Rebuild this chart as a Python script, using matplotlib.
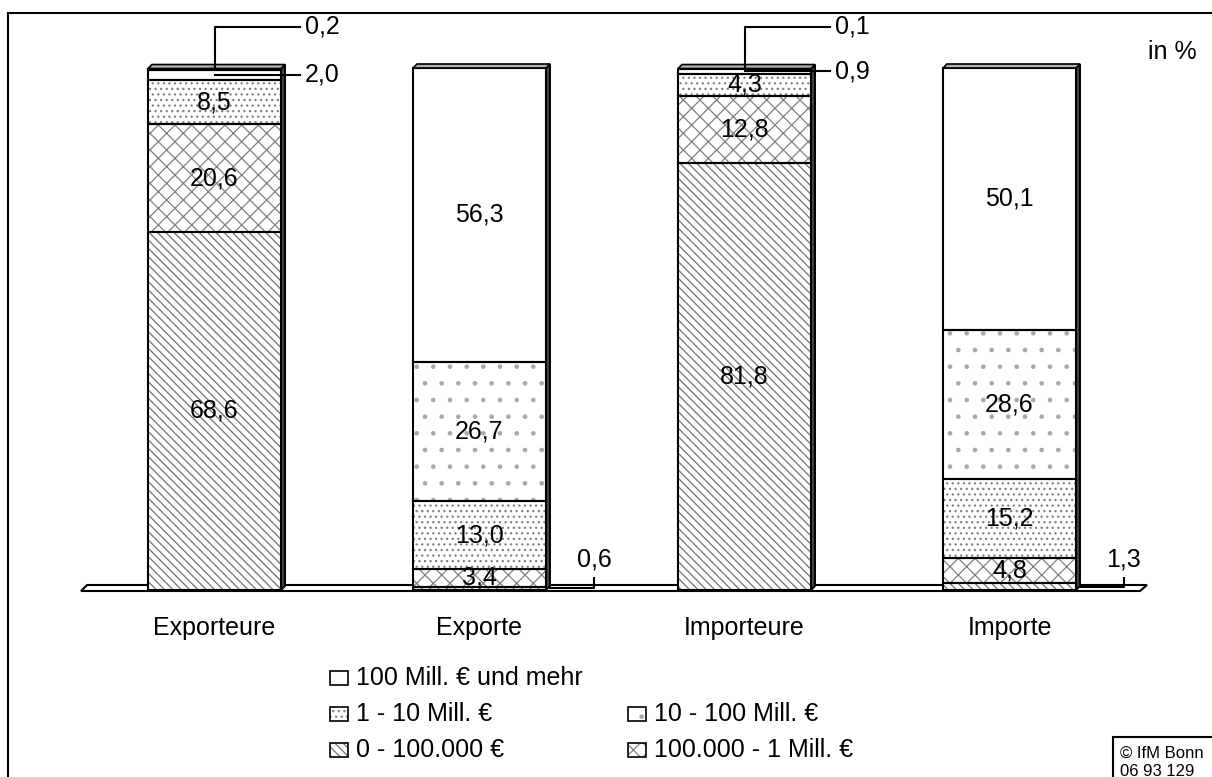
import numpy as np
import matplotlib
matplotlib.use('Agg')
import matplotlib.pyplot as plt
from matplotlib.patches import Rectangle, Polygon

plt.rcParams['font.family'] = ['Liberation Sans', 'DejaVu Sans']
plt.rcParams['hatch.linewidth'] = 0.9

# Daten (Anteile in %)
groups = ['Exporteure', 'Exporte', 'Importeure', 'Importe']
classes = ['0 - 100.000 €', '100.000 - 1 Mill. €', '1 - 10 Mill. €',
           '10 - 100 Mill. €', '100 Mill. € und mehr']
v_0_100t = [68.6, 0.6, 81.8, 1.3]
v_100t_1m = [20.6, 3.4, 12.8, 4.8]
v_1_10m = [8.5, 13.0, 4.3, 15.2]
v_10_100m = [2.0, 26.7, 0.9, 28.6]
v_100m = [0.2, 56.3, 0.1, 50.1]
series = [v_0_100t, v_100t_1m, v_1_10m, v_10_100m, v_100m]

hatches = ['\\\\\\\\', 'xx', '...', '.', '']
hcols = ['#707070', '#808080', '#808080', '#a8a8a8', '#808080']
W, H = 1212, 777


def fx(xp):  # pixel -> figure fraction
    return xp / W


def fy(yp):
    return 1 - yp / H


def d(xp, yp):  # pixel -> data
    return (xp - 214.5) / 265, (590 - yp) / 5.22


def fmt(v):
    return f'{v:.1f}'.replace('.', ',')


fig = plt.figure(figsize=(W / 100, H / 100), dpi=100)
ax = fig.add_axes([0, 0, 1, 1])
ax.set_xlim(d(0, 0)[0], d(W, 0)[0])
ax.set_ylim(d(0, H)[1], d(0, 0)[1])
ax.axis('off')

# Rahmen
fig.patches.append(Rectangle((fx(8), fy(800)), 2, fy(13) - fy(800), transform=fig.transFigure,
                             fill=False, edgecolor='black', linewidth=1.5))

# Boden
floor = [d(81, 591), d(1140, 591), d(1147, 585), d(87, 585)]
ax.add_patch(Polygon(floor, closed=True, facecolor='white', edgecolor='black', linewidth=1.5, zorder=1))

x = np.arange(len(groups))
w = 133 / 265
dx, dy = 4 / 265, 4 / 5.22
fs = 18

bottom = np.zeros(len(groups))
for k, vals in enumerate(series):
    vals = np.array(vals)
    ax.bar(x, vals, width=w, bottom=bottom, color='white', edgecolor=hcols[k],
           hatch=hatches[k], linewidth=0, zorder=2)
    ax.bar(x, vals, width=w, bottom=bottom, fill=False, edgecolor='black',
           linewidth=1.5, zorder=3)
    for i, v in enumerate(vals):
        if v >= 3:
            ax.text(x[i], bottom[i] + v / 2, fmt(v), ha='center', va='center',
                    fontsize=fs, zorder=5)
    bottom += vals

# 3D-Effekt
for i, top in enumerate(bottom):
    x1 = x[i] + w / 2
    x0 = x[i] - w / 2
    ax.add_patch(Polygon([(x1, 0), (x1 + dx, dy), (x1 + dx, top + dy), (x1, top)],
                         closed=True, facecolor='#404040', edgecolor='black', linewidth=1.4, zorder=4))
    ax.add_patch(Polygon([(x0, top), (x0 + dx, top + dy), (x1 + dx, top + dy), (x1, top)],
                         closed=True, facecolor='#b0b0b0', edgecolor='black', linewidth=1.2, zorder=4))

# Kleine Werte mit Hinweislinien
lab_x = 85 / 265
y_top_lab = d(0, 27)[1]
for i in range(len(groups)):
    top = bottom[i]
    v4 = series[4][i]
    v3 = series[3][i]
    if v4 < 3:
        ax.plot([x[i], x[i], x[i] + lab_x], [top - v4 / 2, y_top_lab, y_top_lab],
                color='black', linewidth=1.5, zorder=6)
        ax.text(x[i] + lab_x + 5 / 265, y_top_lab, fmt(v4), ha='left', va='center', fontsize=fs)
    if v3 < 3:
        yc = top - v4 - v3 / 2
        ax.plot([x[i], x[i] + lab_x], [yc, yc], color='black', linewidth=1.5, zorder=6)
        ax.text(x[i] + lab_x + 5 / 265, yc, fmt(v3), ha='left', va='center', fontsize=fs)
    v0 = series[0][i]
    if v0 < 3:
        xe = x[i] + w / 2 + dx
        xt = xe + 44 / 265
        ax.plot([xe, xt, xt], [v0 / 2, v0 / 2, 2.3], color='black', linewidth=1.5, zorder=6)
        ax.text(xt, 5.8, fmt(v0), ha='center', va='center', fontsize=fs)

# Kategorien
for i, g in enumerate(groups):
    ax.text(x[i], d(0, 628)[1], g, ha='center', va='center', fontsize=fs)

fig.text(fx(1148), fy(52), 'in %', ha='left', va='center', fontsize=fs)

# Legende
leg = [(4, 330, 678), (2, 330, 714), (3, 628, 714), (0, 330, 750), (1, 628, 750)]
for k, xp, yp in leg:
    fig.patches.append(Rectangle((fx(xp), fy(yp + 7)), 18 / W, 14 / H, transform=fig.transFigure,
                                 facecolor='white', edgecolor=hcols[k], hatch=hatches[k], linewidth=0))
    fig.patches.append(Rectangle((fx(xp), fy(yp + 7)), 18 / W, 14 / H, transform=fig.transFigure,
                                 fill=False, edgecolor='black', linewidth=1.2))
    fig.text(fx(xp + 26), fy(yp), classes[k], ha='left', va='center', fontsize=fs)

# Copyright
fig.patches.append(Rectangle((fx(1113), fy(800)), 0.2, fy(737) - fy(800), transform=fig.transFigure,
                             fill=False, edgecolor='black', linewidth=1.5))
fig.text(fx(1120), fy(753), '© IfM Bonn', ha='left', va='center', fontsize=12)
fig.text(fx(1120), fy(771), '06 93 129', ha='left', va='center', fontsize=12)

fig.savefig('out.png', dpi=100)
